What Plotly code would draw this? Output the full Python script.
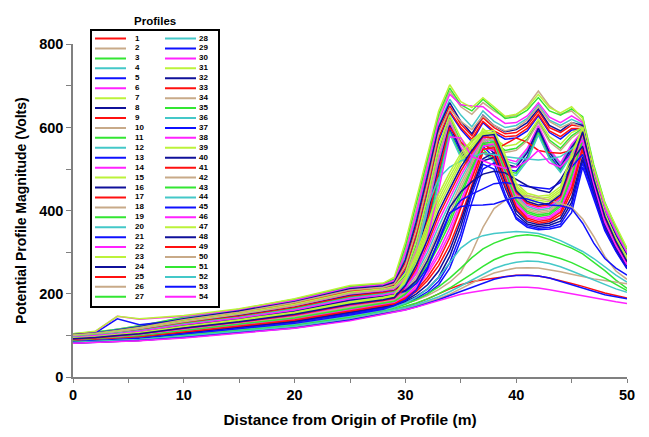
import plotly.graph_objects as go

# Sample positions along the profile (m)
X = [0, 2, 4, 6, 10, 15, 20, 25, 28,
     29, 30, 31, 32, 33, 34, 35, 36, 37, 38, 39, 40,
     41, 42, 43, 44, 45, 46, 47, 48, 49, 50]

# Potential magnitude (Volts) for each profile, one value per sample position
p1 = [101, 105, 113, 120, 139, 157, 180, 210, 217, 226, 275, 365, 475, 592, 652, 608, 580, 624, 600, 585, 588, 605, 640, 600, 588, 606, 602, 482, 392, 338, 290]
p2 = [103, 107, 115, 123, 143, 162, 185, 217, 223, 234, 305, 405, 515, 625, 688, 650, 632, 660, 640, 625, 630, 652, 688, 652, 632, 640, 615, 500, 410, 352, 302]
p3 = [104, 108, 115, 123, 144, 163, 187, 218, 225, 236, 315, 418, 525, 632, 695, 655, 640, 668, 645, 622, 626, 642, 672, 640, 630, 645, 626, 510, 420, 360, 308]
p4 = [102, 106, 114, 121, 141, 160, 183, 214, 220, 230, 290, 385, 495, 605, 668, 630, 602, 640, 615, 600, 605, 622, 655, 618, 605, 620, 608, 490, 400, 345, 295]
p5 = [100, 106, 140, 126, 137, 154, 176, 206, 213, 220, 256, 338, 445, 568, 636, 596, 566, 612, 588, 572, 575, 592, 628, 588, 572, 594, 596, 475, 385, 330, 284]
p6 = [103, 109, 146, 139, 146, 162, 184, 215, 222, 232, 298, 395, 505, 615, 680, 655, 652, 650, 628, 610, 612, 628, 660, 625, 612, 628, 612, 495, 405, 348, 298]
p7 = [104, 110, 146, 140, 148, 164, 188, 220, 226, 240, 325, 430, 535, 640, 703, 662, 648, 672, 650, 627, 632, 648, 680, 648, 635, 650, 622, 505, 418, 365, 310]
p8 = [102, 106, 113, 121, 140, 159, 181, 212, 219, 228, 282, 375, 485, 600, 660, 615, 585, 630, 605, 590, 595, 612, 645, 605, 592, 612, 605, 485, 395, 340, 292]
p9 = [101, 104, 111, 118, 137, 155, 177, 207, 215, 222, 262, 345, 455, 575, 640, 600, 572, 615, 592, 578, 580, 598, 632, 592, 578, 598, 598, 478, 388, 333, 286]
p10 = [101, 105, 112, 119, 138, 156, 179, 209, 216, 224, 268, 355, 465, 585, 645, 615, 595, 628, 605, 592, 598, 618, 650, 615, 600, 612, 600, 480, 390, 335, 288]
p11 = [99, 103, 110, 116, 134, 152, 173, 202, 210, 216, 245, 320, 425, 545, 625, 565, 530, 590, 565, 545, 550, 572, 615, 570, 550, 580, 598, 476, 386, 330, 286]
p12 = [98, 101, 108, 114, 132, 149, 169, 198, 206, 210, 232, 298, 395, 515, 610, 548, 512, 572, 545, 520, 512, 545, 600, 545, 512, 556, 590, 468, 378, 324, 280]
p13 = [97, 100, 106, 112, 129, 145, 165, 193, 202, 206, 222, 280, 365, 485, 595, 540, 500, 555, 528, 500, 495, 530, 592, 532, 498, 545, 585, 462, 372, 318, 274]
p14 = [98, 102, 108, 115, 133, 150, 171, 199, 207, 212, 236, 305, 405, 525, 615, 552, 518, 578, 550, 525, 518, 550, 605, 548, 515, 560, 592, 470, 380, 326, 282]
p15 = [100, 103, 110, 117, 135, 153, 175, 204, 212, 218, 250, 330, 435, 555, 630, 575, 540, 598, 575, 555, 560, 580, 620, 578, 560, 588, 600, 478, 388, 332, 288]
p16 = [97, 101, 107, 114, 131, 148, 168, 196, 204, 208, 228, 292, 385, 505, 605, 545, 508, 565, 538, 512, 505, 540, 598, 540, 505, 552, 588, 466, 376, 322, 278]
p17 = [97, 100, 107, 113, 130, 146, 167, 194, 203, 207, 225, 286, 375, 495, 600, 565, 545, 560, 545, 560, 575, 565, 545, 540, 538, 545, 585, 464, 374, 320, 276]
p18 = [99, 102, 109, 116, 133, 151, 172, 201, 209, 214, 240, 312, 415, 535, 620, 560, 525, 585, 560, 540, 545, 568, 612, 565, 545, 575, 595, 472, 382, 328, 284]
p19 = [96, 100, 105, 111, 128, 144, 164, 191, 200, 205, 220, 275, 355, 475, 590, 532, 505, 548, 522, 495, 490, 525, 588, 528, 495, 540, 582, 460, 370, 316, 272]
p20 = [96, 99, 105, 111, 127, 143, 163, 190, 199, 204, 218, 270, 345, 465, 585, 528, 498, 540, 518, 490, 485, 520, 582, 525, 492, 535, 580, 458, 368, 314, 270]
p21 = [85, 88, 91, 94, 104, 117, 130, 151, 164, 169, 176, 186, 200, 222, 262, 330, 420, 500, 515, 440, 380, 360, 354, 356, 362, 395, 505, 430, 352, 302, 260]
p22 = [88, 91, 94, 98, 109, 124, 138, 161, 173, 178, 192, 215, 248, 292, 345, 412, 482, 550, 545, 472, 412, 386, 378, 382, 400, 462, 558, 458, 368, 313, 268]
p23 = [92, 95, 100, 105, 119, 134, 152, 177, 187, 193, 224, 276, 340, 410, 462, 515, 552, 584, 580, 516, 452, 427, 419, 423, 442, 520, 592, 478, 388, 327, 279]
p24 = [86, 89, 92, 95, 106, 119, 133, 154, 167, 172, 181, 194, 212, 240, 290, 362, 450, 520, 528, 455, 392, 368, 362, 365, 375, 420, 522, 442, 360, 306, 263]
p25 = [87, 90, 93, 97, 107, 121, 136, 157, 170, 175, 188, 206, 232, 268, 318, 385, 462, 540, 530, 460, 404, 378, 370, 374, 390, 445, 545, 450, 364, 310, 266]
p26 = [90, 92, 97, 101, 113, 128, 144, 167, 179, 184, 203, 236, 282, 338, 392, 455, 512, 566, 560, 492, 428, 402, 394, 398, 418, 490, 575, 466, 376, 319, 273]
p27 = [89, 92, 96, 100, 111, 126, 141, 164, 176, 181, 198, 226, 265, 315, 370, 435, 500, 560, 555, 485, 420, 394, 386, 390, 410, 478, 566, 462, 372, 316, 271]
p28 = [91, 93, 98, 102, 115, 130, 146, 170, 182, 187, 210, 250, 300, 362, 418, 475, 525, 572, 568, 500, 436, 410, 402, 406, 426, 500, 582, 470, 380, 322, 275]
p29 = [86, 88, 91, 95, 105, 118, 132, 153, 166, 170, 178, 189, 205, 230, 275, 345, 440, 512, 500, 432, 384, 364, 358, 360, 368, 410, 515, 436, 356, 304, 262]
p30 = [88, 91, 95, 99, 110, 125, 140, 162, 174, 179, 195, 220, 255, 302, 358, 425, 492, 555, 560, 488, 418, 390, 382, 386, 405, 470, 562, 460, 370, 315, 270]
p31 = [93, 96, 101, 106, 120, 136, 153, 178, 189, 194, 228, 284, 350, 420, 472, 522, 558, 586, 588, 528, 456, 432, 424, 428, 447, 525, 595, 480, 390, 328, 280]
p32 = [87, 89, 93, 96, 106, 120, 134, 156, 169, 173, 184, 200, 222, 255, 305, 375, 455, 525, 540, 468, 400, 373, 366, 370, 382, 432, 530, 446, 362, 308, 264]
p33 = [88, 90, 94, 97, 108, 122, 137, 159, 172, 176, 190, 210, 240, 280, 335, 405, 478, 548, 552, 478, 410, 382, 374, 378, 396, 455, 552, 454, 366, 312, 267]
p34 = [90, 93, 97, 102, 114, 129, 145, 169, 180, 185, 206, 242, 290, 350, 405, 465, 518, 570, 572, 505, 432, 406, 398, 402, 422, 496, 578, 468, 378, 320, 274]
p35 = [89, 92, 96, 100, 112, 127, 142, 165, 177, 182, 200, 230, 272, 325, 380, 445, 505, 562, 566, 496, 425, 398, 390, 394, 414, 485, 570, 464, 374, 318, 272]
p36 = [95, 98, 104, 109, 125, 141, 160, 186, 196, 201, 222, 292, 412, 478, 505, 520, 530, 538, 535, 530, 527, 524, 522, 525, 530, 548, 572, 468, 375, 318, 272]
p37 = [94, 97, 103, 108, 123, 139, 157, 183, 193, 198, 206, 225, 265, 325, 392, 425, 440, 452, 465, 468, 463, 458, 455, 452, 468, 505, 535, 450, 365, 310, 265]
p38 = [91, 94, 98, 103, 116, 131, 148, 172, 183, 188, 213, 256, 310, 375, 430, 485, 532, 575, 578, 512, 440, 414, 406, 410, 430, 505, 585, 472, 382, 323, 276]
p39 = [93, 96, 101, 107, 121, 137, 155, 180, 190, 196, 232, 290, 360, 430, 482, 530, 565, 590, 585, 524, 460, 437, 429, 433, 452, 530, 598, 482, 392, 330, 281]
p40 = [94, 98, 103, 109, 124, 140, 159, 185, 194, 199, 208, 232, 280, 342, 408, 445, 470, 488, 495, 491, 475, 460, 450, 444, 475, 520, 555, 455, 368, 312, 268]
p41 = [91, 94, 99, 104, 117, 132, 149, 174, 184, 190, 216, 262, 320, 388, 442, 495, 540, 578, 575, 508, 444, 418, 410, 414, 434, 510, 588, 474, 384, 324, 277]
p42 = [84, 87, 90, 93, 102, 115, 128, 148, 161, 168, 176, 185, 196, 210, 228, 252, 300, 360, 405, 425, 434, 436, 432, 425, 418, 408, 380, 338, 290, 255, 235]
p43 = [84, 86, 89, 91, 100, 113, 125, 145, 159, 166, 175, 186, 200, 217, 238, 262, 287, 308, 322, 332, 339, 342, 339, 331, 321, 310, 296, 276, 256, 233, 213]
p44 = [84, 86, 89, 92, 101, 114, 126, 146, 160, 168, 178, 192, 212, 240, 275, 310, 330, 340, 345, 348, 350, 348, 345, 338, 328, 315, 302, 285, 265, 245, 228]
p45 = [85, 87, 90, 93, 103, 116, 129, 149, 163, 172, 185, 210, 260, 330, 395, 410, 413, 414, 416, 425, 432, 428, 420, 414, 412, 405, 370, 322, 285, 262, 245]
p46 = [95, 99, 104, 110, 126, 142, 161, 188, 197, 202, 216, 250, 335, 448, 578, 575, 530, 520, 510, 502, 505, 520, 545, 515, 505, 535, 570, 465, 372, 316, 270]
p47 = [94, 97, 102, 107, 122, 138, 156, 181, 192, 197, 236, 298, 370, 440, 492, 538, 570, 592, 593, 535, 466, 442, 435, 438, 458, 535, 600, 484, 394, 332, 282]
p48 = [92, 95, 100, 104, 118, 133, 151, 175, 186, 191, 220, 270, 330, 398, 452, 505, 545, 580, 583, 520, 448, 422, 414, 418, 438, 515, 590, 476, 386, 326, 278]
p49 = [82, 84, 86, 88, 96, 108, 120, 138, 153, 160, 168, 177, 188, 200, 212, 222, 229, 234, 238, 242, 245, 245, 243, 238, 232, 225, 218, 210, 202, 196, 190]
p50 = [82, 84, 87, 89, 97, 109, 121, 140, 154, 159, 165, 172, 180, 189, 199, 212, 226, 239, 250, 257, 262, 263, 262, 258, 253, 247, 241, 236, 232, 228, 224]
p51 = [83, 85, 88, 90, 99, 111, 124, 143, 157, 163, 170, 178, 188, 200, 214, 230, 248, 266, 282, 293, 299, 300, 298, 292, 285, 275, 262, 250, 238, 222, 208]
p52 = [83, 85, 87, 90, 98, 110, 122, 141, 156, 161, 167, 174, 183, 193, 205, 219, 234, 249, 261, 270, 276, 279, 278, 273, 265, 255, 244, 233, 222, 212, 204]
p53 = [81, 83, 86, 88, 95, 107, 118, 137, 151, 156, 162, 169, 177, 186, 196, 206, 216, 226, 235, 241, 244, 245, 243, 238, 230, 222, 213, 205, 198, 193, 188]
p54 = [81, 83, 85, 87, 94, 106, 117, 135, 150, 155, 161, 168, 176, 184, 192, 199, 204, 208, 212, 214, 216, 216, 214, 210, 205, 200, 195, 190, 186, 181, 177]

profiles = [p1, p2, p3, p4, p5, p6, p7, p8, p9, p10, p11, p12, p13, p14, p15, p16, p17, p18,
            p19, p20, p21, p22, p23, p24, p25, p26, p27, p28, p29, p30, p31, p32, p33, p34, p35, p36,
            p37, p38, p39, p40, p41, p42, p43, p44, p45, p46, p47, p48, p49, p50, p51, p52, p53, p54]
labels = [str(i + 1) for i in range(len(profiles))]

# Eight-colour cycle used for the profile lines
palette = ["#FF1010", "#C8AA88", "#33E633", "#44C8C8",
           "#1010FF", "#FF22FF", "#BBF23A", "#10109A"]

FONT = "Arial, Liberation Sans, sans-serif"
AXIS_GREY = "#808080"

fig = go.Figure()

for i, (vals, name) in enumerate(zip(profiles, labels)):
    fig.add_trace(go.Scatter(
        x=X, y=vals, mode="lines", name=name,
        line=dict(color=palette[i % 8], width=1.5),
        showlegend=False,
    ))

# Key panel: two columns of swatches with profile numbers
rows_per_col = 27
label_x, label_y, label_txt = [], [], []
for i, name in enumerate(labels):
    col = i // rows_per_col
    row = i % rows_per_col + 1
    x0 = 3 if col == 0 else 73
    fig.add_trace(go.Scatter(
        x=[x0, x0 + 31], y=[row, row], mode="lines",
        line=dict(color=palette[i % 8], width=2),
        xaxis="x2", yaxis="y2", showlegend=False, hoverinfo="skip",
    ))
    label_x.append(43 if col == 0 else 107)
    label_y.append(row)
    label_txt.append(name)

fig.add_trace(go.Scatter(
    x=label_x, y=label_y, text=label_txt, mode="text",
    textposition="middle right",
    textfont=dict(family=FONT, size=8, color="black", weight="bold"),
    xaxis="x2", yaxis="y2", showlegend=False, hoverinfo="skip",
))

fig.update_layout(
    width=649, height=437,
    margin=dict(l=73, r=22, t=10, b=60),
    paper_bgcolor="white", plot_bgcolor="white",
    font=dict(family=FONT, color="black"),
    xaxis=dict(
        range=[0, 50], tick0=0, dtick=10,
        ticks="outside", ticklen=4, tickcolor=AXIS_GREY, tickwidth=1,
        minor=dict(dtick=5, ticks="outside", ticklen=4, tickcolor=AXIS_GREY),
        showline=True, linecolor=AXIS_GREY, linewidth=1.5,
        showgrid=False, zeroline=False,
        tickfont=dict(family=FONT, size=14.5, weight="bold"),
        title=dict(text="Distance from Origin of Profile (m)",
                   font=dict(family=FONT, size=15.5, weight="bold"), standoff=12),
    ),
    yaxis=dict(
        domain=[0, 340 / 367], range=[0, 800], tick0=0, dtick=200,
        ticks="outside", ticklen=5, tickcolor=AXIS_GREY, tickwidth=1,
        minor=dict(dtick=100, ticks="outside", ticklen=5, tickcolor=AXIS_GREY),
        showline=True, linecolor=AXIS_GREY, linewidth=1.5,
        showgrid=False, zeroline=False,
        tickfont=dict(family=FONT, size=14.5, weight="bold"),
        title=dict(text="Potential Profile Magnitude (Volts)",
                   font=dict(family=FONT, size=14, weight="bold"), standoff=9),
    ),
    xaxis2=dict(
        domain=[19 / 554, 145 / 554], range=[0, 126], anchor="y2",
        showline=True, mirror=True, linecolor="black", linewidth=2,
        showticklabels=False, ticks="", showgrid=False, zeroline=False,
    ),
    yaxis2=dict(
        domain=[73 / 367, 354 / 367], range=[27.89, 0.21], anchor="x2",
        showline=True, mirror=True, linecolor="black", linewidth=2,
        showticklabels=False, ticks="", showgrid=False, zeroline=False,
    ),
    annotations=[dict(
        text="Profiles", xref="paper", yref="paper",
        x=82 / 554, y=364 / 367, xanchor="center", yanchor="middle",
        showarrow=False, font=dict(family=FONT, size=11.5, weight="bold"),
    )],
)

fig.write_html("out.html")
